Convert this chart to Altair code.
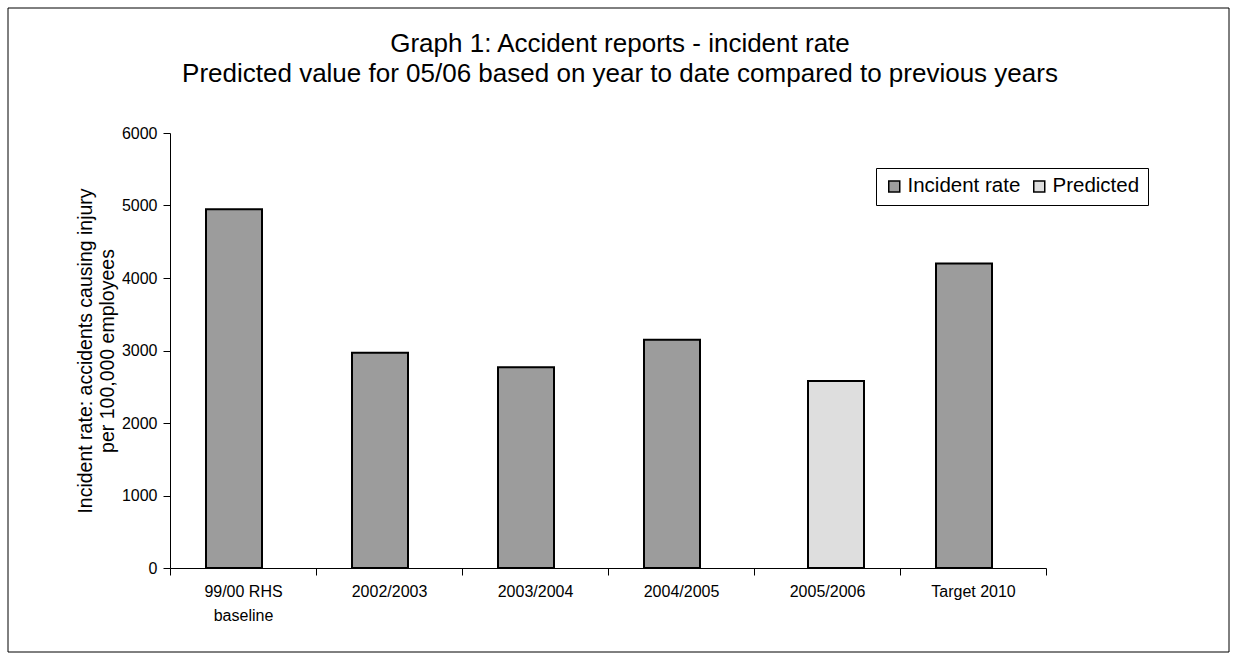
import altair as alt
import pandas as pd

categories = ["99/00 RHS\nbaseline", "2002/2003", "2003/2004", "2004/2005", "2005/2006", "Target 2010"]
series = ["Incident rate", "Incident rate", "Incident rate", "Incident rate", "Predicted", "Incident rate"]
values = [4950, 2970, 2770, 3150, 2580, 4200]

series_names = ["Incident rate", "Predicted"]
series_colors = ["#9c9c9c", "#dedede"]
title_lines = ["Graph 1: Accident reports - incident rate",
               "Predicted value for 05/06 based on year to date compared to previous years"]

df = pd.DataFrame({"category": categories, "series": series, "value": values})

W, H = 876, 435
PL, PT = 170, 133

one = pd.DataFrame({"a": [0]})

border = alt.Chart(one).mark_rect(
    fillOpacity=0, stroke="black", strokeWidth=1
).encode(
    x=alt.value(8 - PL), x2=alt.value(1229 - PL),
    y=alt.value(8 - PT), y2=alt.value(652 - PT),
)

t1 = alt.Chart(one).mark_text(fontSize=26, font="Liberation Sans", color="black",
                              align="center", baseline="alphabetic").encode(
    x=alt.value(620 - PL), y=alt.value(52 - PT), text=alt.value(title_lines[0]))
t2 = alt.Chart(one).mark_text(fontSize=26, font="Liberation Sans", color="black",
                              align="center", baseline="alphabetic").encode(
    x=alt.value(620 - PL), y=alt.value(82 - PT), text=alt.value(title_lines[1]))

x_enc = alt.X("category:N", sort=categories,
              scale=alt.Scale(paddingInner=0, paddingOuter=0),
              axis=alt.Axis(title=None, labelAngle=0, tickBand="extent",
                            labelExpr="split(datum.label, '\\n')",
                            labelFontSize=16, labelColor="black", labelPadding=8,
                            labelLineHeight=24,
                            tickSize=7, tickColor="black", domainColor="black",
                            labelFont="Liberation Sans", zindex=1))
y_enc = alt.Y("value:Q", scale=alt.Scale(domain=[0, 6000], nice=False),
              axis=alt.Axis(values=[0, 1000, 2000, 3000, 4000, 5000, 6000], grid=False, format="d",
                            title=["Incident rate: accidents causing injury", "per 100,000 employees"],
                            titleFontSize=19.5, titleFontWeight="normal", titleColor="black",
                            titleFont="Liberation Sans", titlePadding=4, titleLineHeight=22,
                            labelFontSize=16, labelColor="black", labelPadding=6,
                            labelFont="Liberation Sans",
                            tickSize=7, tickColor="black", domainColor="black", zindex=1))
c_enc = alt.Color("series:N", scale=alt.Scale(domain=series_names, range=series_colors),
                  legend=alt.Legend(title=None, orient="none", legendX=706, legendY=35,
                                    direction="horizontal", symbolType="square",
                                    symbolSize=121, symbolStrokeColor="black",
                                    symbolStrokeWidth=1.5,
                                    labelFontSize=20.5, labelColor="black",
                                    labelFont="Liberation Sans", labelOffset=3,
                                    columnPadding=8,
                                    strokeColor="black", fillColor="white",
                                    padding=8))

base = alt.Chart(df)
bars_inc = base.transform_filter(alt.datum.series == "Incident rate").mark_bar(
    stroke="black", strokeWidth=2, width=56, xOffset=-9
).encode(x=x_enc, y=y_enc, color=c_enc)
bars_pred = base.transform_filter(alt.datum.series == "Predicted").mark_bar(
    stroke="black", strokeWidth=2, width=56, xOffset=9
).encode(x=x_enc, y=y_enc, color=c_enc)

chart = alt.layer(border, t1, t2, bars_inc, bars_pred).properties(
    width=W, height=H,
    padding={"left": PL, "top": PT, "right": 1237 - PL - W, "bottom": 662 - PT - H},
    autosize=alt.AutoSizeParams(type="none"),
).configure_view(stroke=None)

chart.save("out.html", embed_options={"renderer": "svg", "actions": False})
